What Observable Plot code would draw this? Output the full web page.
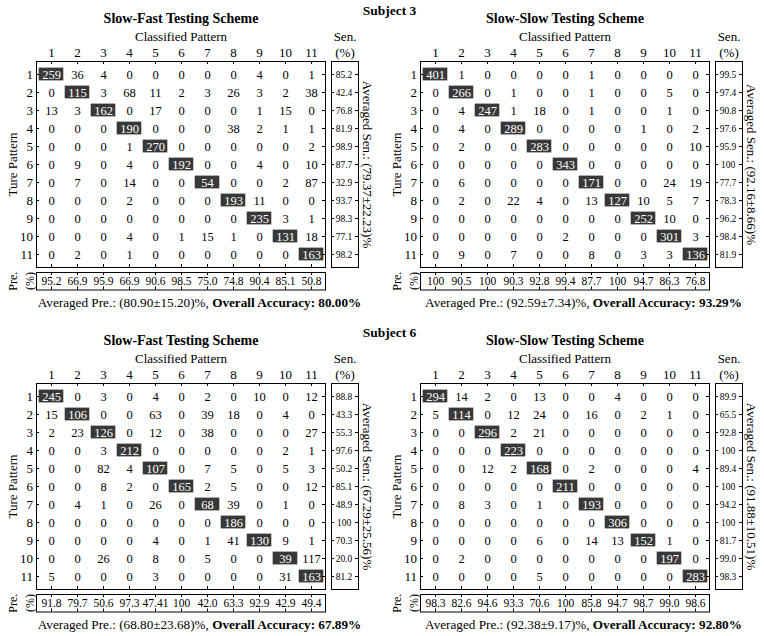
<!DOCTYPE html>
<html>
<head>
<meta charset="utf-8">
<script src="https://cdn.jsdelivr.net/npm/d3@7"></script>
<script src="https://cdn.jsdelivr.net/npm/@observablehq/plot@0.6"></script>
<style>
  html, body { margin: 0; padding: 0; background: #fff; }
  #chart { position: relative; width: 764px; height: 636px; background: #fff; overflow: hidden;
           font-family: "Liberation Serif", "Times New Roman", Times, serif; color: #000; }
  .txt { position: absolute; white-space: nowrap; line-height: 1; transform: translateX(-50%); }
  svg { overflow: visible; }
</style>
</head>
<body>
<div id="chart"></div>
<script>
const FONT = '"Liberation Serif", "Times New Roman", Times, serif';

// ---------- labels ----------
const classes = [1, 2, 3, 4, 5, 6, 7, 8, 9, 10, 11];
const subjectNames = ["Subject 3", "Subject 6"];
const schemeNames = ["Slow-Fast Testing Scheme", "Slow-Slow Testing Scheme"];
const xTitle = "Classified Pattern";
const yTitle = "Ture Pattern";
const senTitle = "Sen.";
const preTitle = "Pre.";
const unitLabel = "(%)";

// ---------- Subject 3, Slow-Fast ----------
const s3FastMatrix = [
  [259, 36, 4, 0, 0, 0, 0, 0, 4, 0, 1],
  [0, 115, 3, 68, 11, 2, 3, 26, 3, 2, 38],
  [13, 3, 162, 0, 17, 0, 0, 0, 1, 15, 0],
  [0, 0, 0, 190, 0, 0, 0, 38, 2, 1, 1],
  [0, 0, 0, 1, 270, 0, 0, 0, 0, 0, 2],
  [0, 9, 0, 4, 0, 192, 0, 0, 4, 0, 10],
  [0, 7, 0, 14, 0, 0, 54, 0, 0, 2, 87],
  [0, 0, 0, 2, 0, 0, 0, 193, 11, 0, 0],
  [0, 0, 0, 0, 0, 0, 0, 0, 235, 3, 1],
  [0, 0, 0, 4, 0, 1, 15, 1, 0, 131, 18],
  [0, 2, 0, 1, 0, 0, 0, 0, 0, 0, 163]
];
const s3FastSen = ["85.2", "42.4", "76.8", "81.9", "98.9", "87.7", "32.9", "93.7", "98.3", "77.1", "98.2"];
const s3FastPre = ["95.2", "66.9", "95.9", "66.9", "90.6", "98.5", "75.0", "74.8", "90.4", "85.1", "50.8"];
const s3FastAvgSen = "(79.37±22.23)%";
const s3FastAvgPre = "(80.90±15.20)%";
const s3FastAcc = "80.00%";

// ---------- Subject 3, Slow-Slow ----------
const s3SlowMatrix = [
  [401, 1, 0, 0, 0, 0, 1, 0, 0, 0, 0],
  [0, 266, 0, 1, 0, 0, 1, 0, 0, 5, 0],
  [0, 4, 247, 1, 18, 0, 1, 0, 0, 1, 0],
  [0, 4, 0, 289, 0, 0, 0, 0, 1, 0, 2],
  [0, 2, 0, 0, 283, 0, 0, 0, 0, 0, 10],
  [0, 0, 0, 0, 0, 343, 0, 0, 0, 0, 0],
  [0, 6, 0, 0, 0, 0, 171, 0, 0, 24, 19],
  [0, 2, 0, 22, 4, 0, 13, 127, 10, 5, 7],
  [0, 0, 0, 0, 0, 0, 0, 0, 252, 10, 0],
  [0, 0, 0, 0, 0, 2, 0, 0, 0, 301, 3],
  [0, 9, 0, 7, 0, 0, 8, 0, 3, 3, 136]
];
const s3SlowSen = ["99.5", "97.4", "90.8", "97.6", "95.9", "100", "77.7", "78.3", "96.2", "98.4", "81.9"];
const s3SlowPre = ["100", "90.5", "100", "90.3", "92.8", "99.4", "87.7", "100", "94.7", "86.3", "76.8"];
const s3SlowAvgSen = "(92.16±8.66)%";
const s3SlowAvgPre = "(92.59±7.34)%";
const s3SlowAcc = "93.29%";

// ---------- Subject 6, Slow-Fast ----------
const s6FastMatrix = [
  [245, 0, 3, 0, 4, 0, 2, 0, 10, 0, 12],
  [15, 106, 0, 0, 63, 0, 39, 18, 0, 4, 0],
  [2, 23, 126, 0, 12, 0, 38, 0, 0, 0, 27],
  [0, 0, 3, 212, 0, 0, 0, 0, 0, 2, 1],
  [0, 0, 82, 4, 107, 0, 7, 5, 0, 5, 3],
  [0, 0, 8, 2, 0, 165, 2, 5, 0, 0, 12],
  [0, 4, 1, 0, 26, 0, 68, 39, 0, 1, 0],
  [0, 0, 0, 0, 0, 0, 0, 186, 0, 0, 0],
  [0, 0, 0, 0, 4, 0, 1, 41, 130, 9, 1],
  [0, 0, 26, 0, 8, 0, 5, 0, 0, 39, 117],
  [5, 0, 0, 0, 3, 0, 0, 0, 0, 31, 163]
];
const s6FastSen = ["88.8", "43.3", "55.3", "97.6", "50.2", "85.1", "48.9", "100", "70.3", "20.0", "81.2"];
const s6FastPre = ["91.8", "79.7", "50.6", "97.3", "47.41", "100", "42.0", "63.3", "92.9", "42.9", "49.4"];
const s6FastAvgSen = "(67.29±25.56)%";
const s6FastAvgPre = "(68.80±23.68)%";
const s6FastAcc = "67.89%";

// ---------- Subject 6, Slow-Slow ----------
const s6SlowMatrix = [
  [294, 14, 2, 0, 13, 0, 0, 4, 0, 0, 0],
  [5, 114, 0, 12, 24, 0, 16, 0, 2, 1, 0],
  [0, 0, 296, 2, 21, 0, 0, 0, 0, 0, 0],
  [0, 0, 0, 223, 0, 0, 0, 0, 0, 0, 0],
  [0, 0, 12, 2, 168, 0, 2, 0, 0, 0, 4],
  [0, 0, 0, 0, 0, 211, 0, 0, 0, 0, 0],
  [0, 8, 3, 0, 1, 0, 193, 0, 0, 0, 0],
  [0, 0, 0, 0, 0, 0, 0, 306, 0, 0, 0],
  [0, 0, 0, 0, 6, 0, 14, 13, 152, 1, 0],
  [0, 2, 0, 0, 0, 0, 0, 0, 0, 197, 0],
  [0, 0, 0, 0, 5, 0, 0, 0, 0, 0, 283]
];
const s6SlowSen = ["89.9", "65.5", "92.8", "100", "89.4", "100", "94.2", "100", "81.7", "99.0", "98.3"];
const s6SlowPre = ["98.3", "82.6", "94.6", "93.3", "70.6", "100", "85.8", "94.7", "98.7", "99.0", "98.6"];
const s6SlowAvgSen = "(91.88±10.51)%";
const s6SlowAvgPre = "(92.38±9.17)%";
const s6SlowAcc = "92.80%";

// ---------- assemble panels ----------
const panels = [
  {col: 0, row: 0, scheme: schemeNames[0], m: s3FastMatrix, sen: s3FastSen, pre: s3FastPre, avgSen: s3FastAvgSen, avgPre: s3FastAvgPre, acc: s3FastAcc},
  {col: 1, row: 0, scheme: schemeNames[1], m: s3SlowMatrix, sen: s3SlowSen, pre: s3SlowPre, avgSen: s3SlowAvgSen, avgPre: s3SlowAvgPre, acc: s3SlowAcc},
  {col: 0, row: 1, scheme: schemeNames[0], m: s6FastMatrix, sen: s6FastSen, pre: s6FastPre, avgSen: s6FastAvgSen, avgPre: s6FastAvgPre, acc: s6FastAcc},
  {col: 1, row: 1, scheme: schemeNames[1], m: s6SlowMatrix, sen: s6SlowSen, pre: s6SlowPre, avgSen: s6SlowAvgSen, avgPre: s6SlowAvgPre, acc: s6SlowAcc}
];

const chart = document.getElementById("chart");
const baseStyle = {fontFamily: FONT, fontSize: "13px", color: "#000", background: "transparent", overflow: "visible"};
const DARK = "#383838";

function put(el, left, top) {
  el.style.position = "absolute";
  el.style.left = left + "px";
  el.style.top = top + "px";
  chart.appendChild(el);
}
function addText(html, cx, top, size, weight) {
  const d = document.createElement("div");
  d.className = "txt";
  d.innerHTML = html;
  d.style.left = cx + "px";
  d.style.top = top + "px";
  d.style.fontSize = size + "px";
  d.style.fontWeight = weight || "normal";
  chart.appendChild(d);
}

// matrix geometry (inner frame) : 289 x 206
const MW = 289, MH = 206;

function matrixPlot(m) {
  const cells = m.flatMap((row, i) => row.map((v, j) => ({r: classes[i], c: classes[j], v})));
  const diag = cells.filter(d => d.r === d.c);
  const off = cells.filter(d => d.r !== d.c);
  return Plot.plot({
    width: 36 + MW + 2, height: 38 + MH + 2,
    marginTop: 38, marginLeft: 36, marginRight: 2, marginBottom: 2,
    style: baseStyle,
    x: {type: "band", domain: classes, padding: 0, axis: "top", label: xTitle, labelAnchor: "center", labelOffset: 29.5, tickSize: 0, tickPadding: 4.5},
    y: {type: "band", domain: classes, padding: 0, axis: "left", label: yTitle, labelAnchor: "center", labelOffset: 29, tickSize: 0, tickPadding: 3.5},
    marks: [
      Plot.cell(diag, {x: "c", y: "r", fill: DARK, insetTop: 2.6, insetBottom: 2.6, insetLeft: 0.7, insetRight: 0.7}),
      Plot.text(off, {x: "c", y: "r", text: "v", fontSize: 12.5, fill: "#000"}),
      Plot.text(diag, {x: "c", y: "r", text: "v", fontSize: 12.5, fill: "#fff"}),
      Plot.tickX(classes, {x: d => d, insetBottom: MH - 3, stroke: "#000"}),
      Plot.tickX(classes, {x: d => d, insetTop: MH - 3, stroke: "#000"}),
      Plot.tickY(classes, {y: d => d, insetRight: MW - 3, stroke: "#000"}),
      Plot.tickY(classes, {y: d => d, insetLeft: MW - 3, stroke: "#000"}),
      Plot.frame({stroke: "#000"})
    ]
  });
}

const SW = 27;
function senPlot(sen, avgSen) {
  const rows = sen.map((v, i) => ({r: classes[i], u: unitLabel, v}));
  return Plot.plot({
    width: 4 + SW + 40, height: 38 + MH + 2,
    marginTop: 38, marginLeft: 4, marginRight: 40, marginBottom: 2,
    style: baseStyle,
    x: {type: "band", domain: [unitLabel], padding: 0, axis: "top", label: senTitle, labelAnchor: "center", labelOffset: 29.5, tickSize: 0, tickPadding: 4.5},
    y: {type: "band", domain: classes, padding: 0, axis: null},
    marks: [
      Plot.text(rows, {x: "u", y: "r", text: "v", fontSize: 9.5, dx: -1, fill: "#000"}),
      Plot.tickY(classes, {y: d => d, insetRight: SW - 3, stroke: "#000"}),
      Plot.tickY(classes, {y: d => d, insetLeft: SW - 3, stroke: "#000"}),
      Plot.frame({stroke: "#000"}),
      Plot.text(["Averaged Sen.: " + avgSen], {frameAnchor: "right", textAnchor: "middle", lineAnchor: "middle", text: d => d, rotate: 90, dx: 8.5, fontSize: 13, fill: "#000"})
    ]
  });
}

const PH = 17.5;
function prePlot(pre) {
  const cols = pre.map((v, j) => ({c: classes[j], u: unitLabel, v}));
  return Plot.plot({
    width: 36 + MW + 2, height: 6 + PH + 3,
    marginTop: 6, marginLeft: 36, marginRight: 2, marginBottom: 3,
    style: {...baseStyle, fontSize: "12px"},
    x: {type: "band", domain: classes, padding: 0, axis: null},
    y: {type: "band", domain: [unitLabel], padding: 0, axis: "left", label: preTitle, labelAnchor: "center", labelOffset: 28, tickSize: 0, tickPadding: 2.5, tickRotate: -90},
    marks: [
      Plot.text(cols, {x: "c", y: "u", text: "v", fontSize: 11.5, fill: "#000"}),
      Plot.tickX(classes, {x: d => d, insetBottom: PH - 3, stroke: "#000"}),
      Plot.tickX(classes, {x: d => d, insetTop: PH - 3, stroke: "#000"}),
      Plot.frame({stroke: "#000"})
    ]
  });
}

// subject headers
addText(subjectNames[0], 389.5, 3.5, 13.5, "bold");
addText(subjectNames[1], 389.5, 325.5, 13.5, "bold");

for (const p of panels) {
  const px = p.col * 384, py = p.row * 322;
  addText(p.scheme, px + 181, py + 12, 14, "bold");
  put(matrixPlot(p.m), px, py + 23);
  put(senPlot(p.sen, p.avgSen), px + 327, py + 23);
  put(prePlot(p.pre), px, py + 266);
  addText("Averaged Pre.: " + p.avgPre + ", <b>Overall Accuracy: " + p.acc + "</b>", px + 199.5, py + 295.5, 13.2);
}
</script>
</body>
</html>
